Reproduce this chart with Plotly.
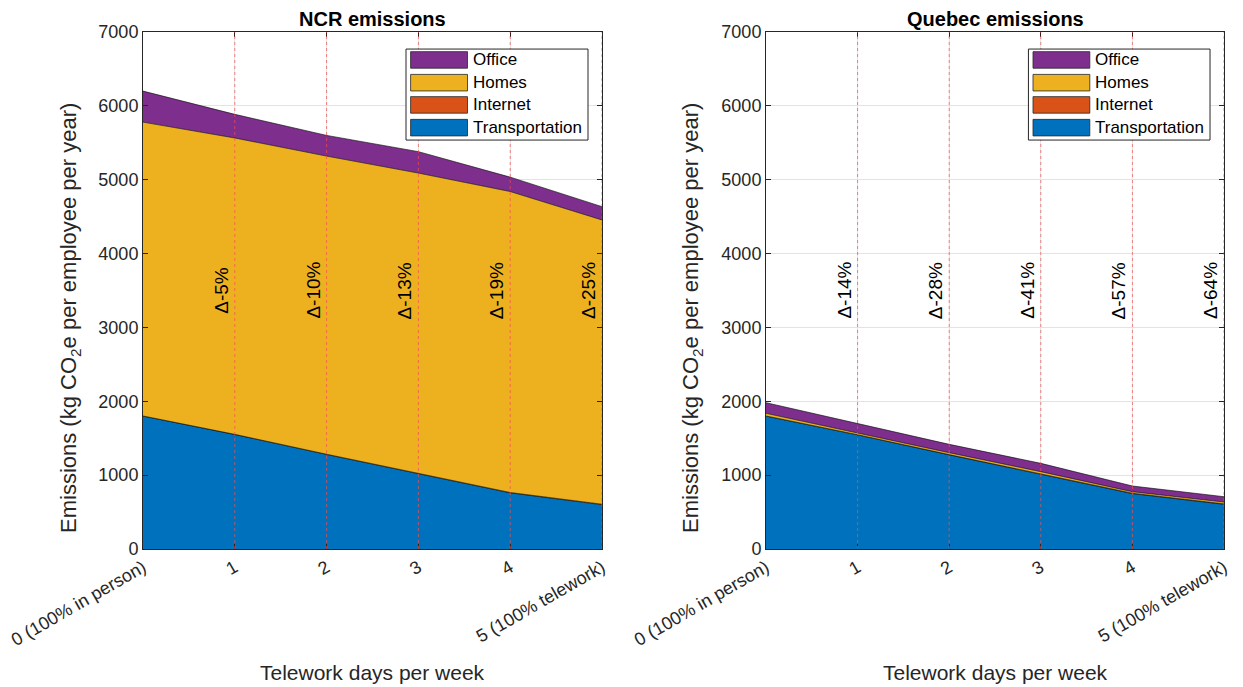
import plotly.graph_objects as go

# ---------------- data ----------------
x_vals = [0, 1, 2, 3, 4, 5]
x_ticktext = ["0 (100% in person)", "1", "2", "3", "4", "5 (100% telework)"]
y_tickvals = [0, 1000, 2000, 3000, 4000, 5000, 6000, 7000]

series_names = ["Transportation", "Internet", "Homes", "Office"]

ncr_transport = [1800, 1550, 1280, 1020, 760, 600]
ncr_internet = [1, 2, 3, 4, 5, 6]
ncr_homes = [3979, 4013, 4037, 4066, 4075, 3849]
ncr_office = [420, 320, 280, 290, 195, 180]
ncr_pct = [-5, -10, -13, -19, -25]

qc_transport = [1800, 1545, 1275, 1015, 750, 605]
qc_internet = [1, 2, 3, 4, 5, 6]
qc_homes = [36, 20, 26, 28, 21, 25]
qc_office = [144, 135, 113, 113, 77, 72]
qc_pct = [-14, -28, -41, -57, -64]

titles = ["NCR emissions", "Quebec emissions"]

# ---------------- style ----------------
colors = {
    "Transportation": "#0072BD",
    "Internet": "#D95319",
    "Homes": "#EDB120",
    "Office": "#7E2F8E",
}
FONT = "Liberation Sans, Arial, sans-serif"
AX_COL = "#262626"
W, H = 1243, 687
x_domains = [[143 / W, 602 / W], [766 / W, 1224 / W]]
y_domain = [(H - 549) / H, (H - 32) / H]

fig = go.Figure()

panels = [
    [ncr_transport, ncr_internet, ncr_homes, ncr_office],
    [qc_transport, qc_internet, qc_homes, qc_office],
]
pcts = [ncr_pct, qc_pct]

for p, vals in enumerate(panels):
    xa = "x" if p == 0 else "x2"
    ya = "y" if p == 0 else "y2"
    for name, v in zip(series_names, vals):
        fig.add_trace(go.Scatter(
            x=x_vals, y=v, name=name, mode="lines",
            stackgroup="s%d" % p,
            line=dict(color="black", width=0.6),
            fillcolor=colors[name],
            xaxis=xa, yaxis=ya, showlegend=False,
            hoverinfo="x+y+name",
        ))

layout_axes = {}
for p in range(2):
    sfx = "" if p == 0 else "2"
    layout_axes["xaxis" + sfx] = dict(
        domain=x_domains[p], anchor="y" + sfx, range=[x_vals[0], x_vals[-1]],
        tickmode="array", tickvals=x_vals, ticktext=x_ticktext, tickangle=-30,
        ticks="inside", ticklen=5, tickcolor=AX_COL, mirror="allticks",
        showline=True, linecolor=AX_COL, linewidth=1,
        showgrid=True, gridcolor="#e3e3e3", zeroline=False,
        tickfont=dict(family=FONT, size=18, color=AX_COL), automargin=False,
    )
    layout_axes["yaxis" + sfx] = dict(
        domain=y_domain, anchor="x" + sfx, range=[0, 7000],
        tickmode="array", tickvals=y_tickvals,
        ticks="inside", ticklen=5, tickcolor=AX_COL, mirror="allticks",
        showline=True, linecolor=AX_COL, linewidth=1,
        showgrid=True, gridcolor="#e3e3e3", zeroline=False,
        tickfont=dict(family=FONT, size=18, color=AX_COL), automargin=False,
    )

shapes = []
annotations = []
for p in range(2):
    xa = "x" if p == 0 else "x2"
    ya = "y" if p == 0 else "y2"
    # dashed red lines and delta labels
    for xv, pc in zip(x_vals[1:], pcts[p]):
        shapes.append(dict(type="line", xref=xa, yref=ya + " domain",
                           x0=xv, x1=xv, y0=0, y1=1,
                           line=dict(color="rgba(240,80,80,0.7)", width=1, dash="3px,3px")))
        annotations.append(dict(xref=xa, yref=ya, x=xv, y=3500, text="\u0394%d%%" % pc,
                                textangle=-90, showarrow=False, xanchor="right", yanchor="middle",
                                xshift=-1, font=dict(family=FONT, size=19, color="black")))
    # title
    annotations.append(dict(xref=xa + " domain", yref=ya + " domain", x=0.5, y=1,
                            text="<b>%s</b>" % titles[p], showarrow=False,
                            xanchor="center", yanchor="bottom", yshift=0,
                            font=dict(family=FONT, size=20, color="black")))
    # x-axis title
    annotations.append(dict(xref=xa + " domain", yref="paper", x=0.5, y=(H - 672) / H,
                            text="Telework days per week", showarrow=False,
                            xanchor="center", yanchor="middle",
                            font=dict(family=FONT, size=21, color=AX_COL)))
    # y-axis title
    annotations.append(dict(xref="paper", yref="paper", x=(70 if p == 0 else 692) / W, y=(H - 318) / H,
                            text="Emissions (kg CO<sub>2</sub>e per employee per year)",
                            textangle=-90, showarrow=False, xanchor="center", yanchor="middle",
                            font=dict(family=FONT, size=22, color=AX_COL)))
    # legend box
    shapes.append(dict(type="rect", xref=xa + " domain", yref=ya + " domain",
                       x0=0.573, x1=0.9695, y0=0.791, y1=0.967,
                       fillcolor="white", line=dict(color=AX_COL, width=1), layer="above"))
    row_y = [0.946, 0.902, 0.859, 0.815]
    for ry, name in zip(row_y, series_names[::-1]):
        shapes.append(dict(type="rect", xref=xa + " domain", yref=ya + " domain",
                           x0=0.583, x1=0.707, y0=ry - 0.016, y1=ry + 0.016,
                           fillcolor=colors[name], line=dict(color=AX_COL, width=0.8), layer="above"))
        annotations.append(dict(xref=xa + " domain", yref=ya + " domain", x=0.714, y=ry,
                                text=name, showarrow=False, xanchor="left", yanchor="middle",
                                font=dict(family=FONT, size=17, color="black")))

fig.update_layout(
    width=W, height=H, margin=dict(l=0, r=0, t=0, b=0),
    paper_bgcolor="white", plot_bgcolor="white",
    shapes=shapes, annotations=annotations, showlegend=False,
    **layout_axes,
)

fig.write_html("out.html", config={"displayModeBar": False},
               post_script="document.body.style.margin='0';")
